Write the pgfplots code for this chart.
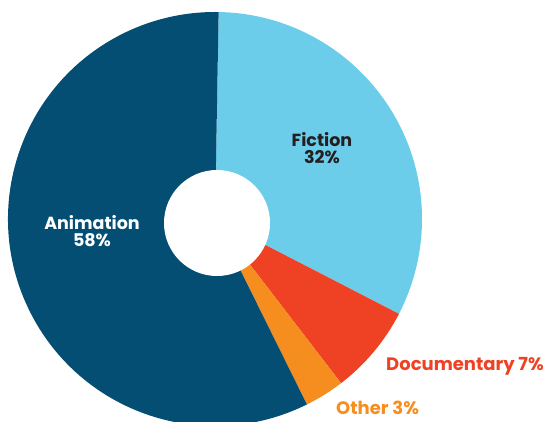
\documentclass[border=0pt]{standalone}
\usepackage{pgfplots}
\usepackage{pgfplotstable}
\pgfplotsset{compat=1.18}
\usepackage{fontspec}
\setmainfont{Poppins}
\definecolor{cAnim}{HTML}{044E74}
\definecolor{cFic}{HTML}{6CCDEB}
\definecolor{cDoc}{HTML}{EF4123}
\definecolor{cOth}{HTML}{F68D1F}
\definecolor{cTxt}{HTML}{231F20}
\pgfplotstableread{
name value col
Fiction 32.3 cFic
Documentary 7.0 cDoc
Other 3.1 cOth
Animation 57.6 cAnim
}\piedata
\begin{document}
\begin{tikzpicture}
\useasboundingbox (0,0) rectangle (545pt,422pt);
\begin{axis}[
  at={(0,0)}, anchor=south west,
  scale only axis, width=545pt, height=422pt,
  xmin=0, xmax=545, ymin=0, ymax=422,
  hide axis, clip=false,
]
\def\cum{89}
\pgfplotsforeachungrouped \i in {0,1,2,3}{%
  \pgfplotstablegetelem{\i}{value}\of\piedata \let\v\pgfplotsretval
  \pgfplotstablegetelem{\i}{col}\of\piedata \let\c\pgfplotsretval
  \pgfmathsetmacro\b{\cum-3.6*\v}%
  \edef\tmp{\noexpand\fill[\c] (axis cs:215,203) -- ++(\cum:207pt) arc[start angle=\cum, end angle=\b, radius=207pt] -- cycle;}%
  \tmp
  \let\cum\b
}
\fill[white] (axis cs:217,199) circle[radius=53pt];
\node[font=\fontsize{17.5}{17.5}\selectfont\bfseries, text=cTxt, align=center, inner sep=0pt] at (axis cs:322,274) {Fiction\\32\%};
\node[font=\fontsize{17.5}{17.5}\selectfont\bfseries, text=white, align=center, inner sep=0pt] at (axis cs:92,191) {Animation\\58\%};
\node[font=\fontsize{18}{18}\selectfont\bfseries, text=cDoc, anchor=west, inner sep=0pt] at (axis cs:386,56) {Documentary 7\%};
\node[font=\fontsize{18}{18}\selectfont\bfseries, text=cOth, anchor=west, inner sep=0pt] at (axis cs:336,14) {Other 3\%};
\end{axis}
\end{tikzpicture}
\end{document}
